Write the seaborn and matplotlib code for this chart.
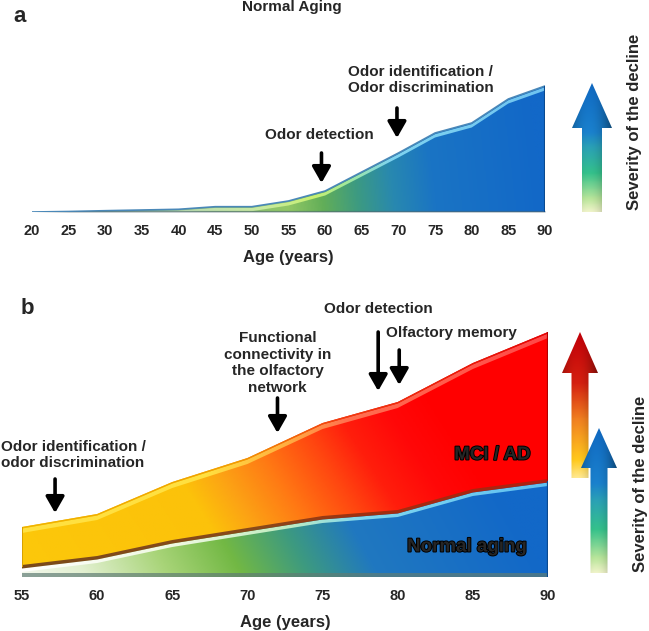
import numpy as np
import matplotlib
matplotlib.use("Agg")
import matplotlib.pyplot as plt
import matplotlib.patheffects as pe
import seaborn as sns
from matplotlib.colors import LinearSegmentedColormap
from matplotlib.patches import Polygon

# ====== DATA ======
AGE_A = [20, 25, 30, 35, 40, 45, 50, 55, 60, 65, 70, 75, 80, 85, 90]
NORMAL_A = [0, 0.5, 1.3, 2, 2.7, 5.3, 5.3, 11, 21, 40, 59, 79, 89, 113, 126]

AGE_B = [55, 60, 65, 70, 75, 80, 85, 90]
NORMAL_B = [10, 19, 35, 47, 59, 65, 86, 96]
MCI_B = [50, 63, 95, 119, 154, 175, 214, 245]

TICKS_A = list(range(20, 95, 5))
TICKS_B = list(range(55, 95, 5))

# (text, text age, text level, arrow age, arrow tail, arrow tip)
NOTES_A = [
    ("Odor detection", 59.2, 77, 59.5, 59, 29),
    ("Odor identification /\nOdor discrimination", 73.1, 132, 69.8, 104, 74),
]
NOTES_B = [
    ("Odor identification /\nodor discrimination", 58.4, 122, 57.2, 98, 64),
    ("Functional\nconnectivity in\nthe olfactory\nnetwork", 72.0, 214, 72.0, 179, 144),
    ("Odor detection", 78.7, 268, 78.7, 245, 186),
    ("Olfactory memory", 83.6, 244, 80.1, 227, 192),
]
# ==================

W, H = 649, 631

sns.set_style("white")
plt.rcParams["font.family"] = ["Liberation Sans", "DejaVu Sans"]
plt.rcParams["font.weight"] = "bold"

fig = plt.figure(figsize=(W / 100, H / 100), dpi=100)


def px_axes(left, top, right, bottom):
    return fig.add_axes([left / W, 1 - bottom / H, (right - left) / W, (bottom - top) / H])


def gradient_area(ax, x, low, high, colors, tilt=0.0, z=1):
    # fill_between gives the shape, an image clipped to it gives the colour ramp
    cmap = LinearSegmentedColormap.from_list("ramp", colors)
    poly = ax.fill_between(x, low, high, facecolor="none", edgecolor="none", zorder=z)
    top = float(np.max(high))
    gx, gy = np.meshgrid(np.linspace(0, 1, 400), np.linspace(0, 1, 200))
    im = ax.imshow(gx + tilt * gy, extent=(x[0], x[-1], 0, top), origin="lower",
                   aspect="auto", cmap=cmap, vmin=0, vmax=1, zorder=z,
                   interpolation="bilinear")
    im.set_clip_path(poly.get_paths()[0], transform=ax.transData)


def gradient_arrow(ax, cx, tip, head, bottom, hw, sw, colors, z=2):
    verts = [(cx - sw, bottom), (cx - sw, head), (cx - hw, head), (cx, tip),
             (cx + hw, head), (cx + sw, head), (cx + sw, bottom)]
    patch = Polygon(verts, closed=True, facecolor="none", edgecolor="none")
    ax.add_patch(patch)
    cmap = LinearSegmentedColormap.from_list("arrow", colors)
    t = np.linspace(1, 0, 240)[:, None] * np.ones((1, 60))
    u = np.linspace(-1, 1, 60)[None, :] * np.ones((240, 1))
    shade = 1 - 0.32 * u ** 2 - 0.1 * u
    img = cmap(t)
    img[..., :3] = np.clip(img[..., :3] * shade[..., None], 0, 1)
    im = ax.imshow(img, extent=(cx - hw, cx + hw, bottom, tip), origin="upper",
                   aspect="auto", interpolation="bilinear", zorder=z)
    im.set_clip_path(patch)


def style_axis(ax, ticks, xlim, ylim):
    ax.set_xlim(*xlim)
    ax.set_ylim(*ylim)
    ax.set_xticks(ticks)
    ax.set_xticklabels([str(t) for t in ticks], fontsize=10.5, fontweight="bold")
    ax.set_yticks([])
    ax.tick_params(axis="x", length=0, pad=8.5)
    ax.set_xlabel("Age (years)", fontsize=12, fontweight="bold", labelpad=8.5)
    ax.set_ylabel("")
    sns.despine(ax=ax, left=True, bottom=True)


def add_notes(ax, notes, align):
    for (text, tx, ty, ax_age, tail, tip), ma in zip(notes, align):
        ax.text(tx, ty, text, ha="center", va="center", fontsize=11, fontweight="bold",
                multialignment=ma, linespacing=1.25, zorder=6)
        ax.annotate("", xy=(ax_age, tip), xytext=(ax_age, tail), zorder=6,
                    arrowprops=dict(arrowstyle="-|>,head_length=0.7,head_width=0.4",
                                    lw=2.6, color="black", shrinkA=0, shrinkB=0,
                                    mutation_scale=14))


BLUE_ARROW = [(0, "#eef2c8"), (0.1, "#b8e49a"), (0.3, "#34c08a"), (0.5, "#2aa0b4"),
              (0.62, "#1a80cc"), (1, "#1068c0")]
RED_ARROW = [(0, "#ffe890"), (0.12, "#ffc81c"), (0.4, "#f08020"), (0.65, "#d42010"),
             (1, "#c00008")]

# ---------------- panel a ----------------
ax_a = px_axes(32, 60, 545, 212)
na = np.array(NORMAL_A, dtype=float)
gradient_area(ax_a, AGE_A, 0, na,
              [(0, "#7aa6b4"), (0.42, "#8cc072"), (0.5, "#92c866"), (0.57, "#62ae58"),
               (0.64, "#3c9a82"), (0.71, "#2888b0"), (0.79, "#1a74c4"), (1, "#1268c8")],
              tilt=0.03, z=1)
gradient_area(ax_a, AGE_A, np.maximum(na - 4.5, 0), np.maximum(na - 1.2, 0),
              [(0, "#a8c8d0"), (0.45, "#c8eaa0"), (0.55, "#c8f070"), (0.62, "#a0e8a0"),
               (0.7, "#80d4f0"), (1, "#70c4f0")], z=2)
sns.lineplot(x=AGE_A, y=NORMAL_A, ax=ax_a, color="#4a88b8", lw=1.2, zorder=3)
ax_a.fill_between(AGE_A, 0, np.minimum(na, 1.6), color="#4d6670", alpha=0.6, lw=0, zorder=3)
ax_a.vlines(AGE_A[-1], 0, NORMAL_A[-1], color="#0a4a90", lw=1.5, zorder=3)
style_axis(ax_a, TICKS_A, (20, 90), (0, 152))
add_notes(ax_a, NOTES_A, ["center", "left"])

# ---------------- panel b ----------------
ax_b = px_axes(22, 300, 548, 577)
nb = np.array(NORMAL_B, dtype=float)
mb = np.array(MCI_B, dtype=float)
gradient_area(ax_b, AGE_B, 0, mb,
              [(0, "#fcc80a"), (0.42, "#fcc20a"), (0.5, "#fca414"), (0.6, "#ff7c14"),
               (0.72, "#ff4610"), (0.8, "#ff1e0c"), (0.9, "#ff0808"), (1, "#ff0000")],
              tilt=0.3, z=1)
gradient_area(ax_b, AGE_B, mb - 6, mb - 1.5,
              [(0, "#ffe040"), (0.35, "#ffe040"), (0.5, "#ffb040"), (0.62, "#ff7050"),
               (1, "#ff4848")], z=2)
gradient_area(ax_b, AGE_B, mb - 1.5, mb,
              [(0, "#f0b400"), (0.4, "#f0a000"), (0.6, "#f04010"), (1, "#e00808")], z=2)
gradient_area(ax_b, AGE_B, 0, nb,
              [(0, "#f2f7ec"), (0.12, "#e2f0d0"), (0.28, "#a8d478"), (0.42, "#72b844"),
               (0.55, "#3d9a80"), (0.68, "#2078c0"), (1, "#1268c8")],
              tilt=0.1, z=3)
gradient_area(ax_b, AGE_B, nb - 5, nb - 1.5,
              [(0, "#ffffff"), (0.3, "#eef8e0"), (0.5, "#c0ecc0"), (0.65, "#80d8f0"),
               (1, "#60c0f0")], z=4)
gradient_area(ax_b, AGE_B, nb - 1.5, nb + 2,
              [(0, "#7a4a1a"), (0.45, "#8a4a1a"), (0.65, "#a03010"), (1, "#b02010")], z=4)
ax_b.fill_between(AGE_B, 0, 3.8, color="#5f7c74", alpha=0.7, lw=0, zorder=4)
ax_b.vlines(AGE_B[-1], nb[-1], mb[-1], color="#b00000", lw=1.6, zorder=4)
ax_b.vlines(AGE_B[-1], 0, nb[-1], color="#0a4a90", lw=1.6, zorder=5)
ax_b.vlines(AGE_B[0], nb[0], mb[0], color="#d8a000", lw=1.4, zorder=4)
style_axis(ax_b, TICKS_B, (55, 90), (0, 277))
add_notes(ax_b, NOTES_B, ["left", "center", "center", "center"])
heavy = [pe.withStroke(linewidth=1.4, foreground="black")]
ax_b.text(86.3, 122, "MCI / AD", ha="center", va="center", fontsize=13.5,
          fontweight="bold", path_effects=heavy, zorder=6)
ax_b.text(84.6, 30, "Normal aging", ha="center", va="center", fontsize=13.5,
          fontweight="bold", path_effects=heavy, zorder=6)

# ---------------- severity arrows (pixel overlay) ----------------
ov = fig.add_axes([0, 0, 1, 1])
ov.set_xlim(0, W)
ov.set_ylim(H, 0)
ov.set_axis_off()
gradient_arrow(ov, 592, 83, 128, 212, 20, 10, BLUE_ARROW)
gradient_arrow(ov, 580, 332, 373, 478, 18, 8.5, RED_ARROW)
gradient_arrow(ov, 599, 428, 468, 573, 18, 8.5, BLUE_ARROW, z=3)

fig.text(634 / W, 1 - 122 / H, "Severity of the decline", rotation=90, ha="center",
         va="center", fontsize=12, fontweight="bold")
fig.text(640 / W, 1 - 484 / H, "Severity of the decline", rotation=90, ha="center",
         va="center", fontsize=12, fontweight="bold")
fig.text(20 / W, 1 - 17 / H, "a", ha="center", va="center", fontsize=16, fontweight="bold")
fig.text(27 / W, 1 - 308 / H, "b", ha="center", va="center", fontsize=16, fontweight="bold")
fig.text(292 / W, 1 - 7 / H, "Normal Aging", ha="center", va="center", fontsize=11,
         fontweight="bold")

fig.savefig("out.png", dpi=100)
